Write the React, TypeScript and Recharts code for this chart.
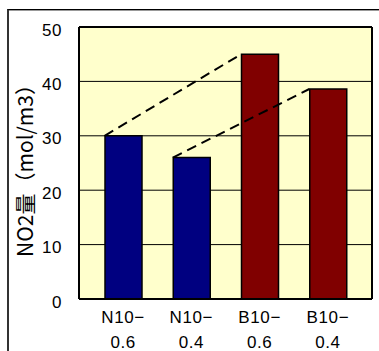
import React from 'react';
import { BarChart, Bar, XAxis, YAxis, CartesianGrid, Cell, ReferenceLine } from 'recharts';

const categories = ['N10-0.6', 'N10-0.4', 'B10-0.6', 'B10-0.4'];
const no2Values = [30, 26, 45, 38.6];
const barColors = ['#000080', '#000080', '#800000', '#800000'];
const yTicks = [0, 10, 20, 30, 40, 50];
// dashed links between bars: [from index, to index]
const links = [
  [0, 2],
  [1, 3]
];

const data = categories.map((name, i) => ({ name, value: no2Values[i] }));

const BAR_SIZE = 37;
const LATIN = '"Liberation Sans", Arial, sans-serif';
const JP = '"Noto Sans CJK JP", sans-serif';

const XTick = ({ x, y, payload }: any) => {
  const [head, tail] = String(payload.value).split('-');
  return (
    <text x={x} y={y} textAnchor="middle" fontSize={17} letterSpacing={0.6} fill="#000" fontFamily={LATIN}>
      <tspan x={x} dy={24}>{head}−</tspan>
      <tspan x={x} dy={25}>{tail}</tspan>
    </text>
  );
};

const YTick = ({ x, y, payload }: any) => (
  <text x={x} y={y} dy={8.5} textAnchor="end" fontSize={17} letterSpacing={0.5} fill="#000" fontFamily={LATIN}>
    {payload.value}
  </text>
);

const YLabel = ({ viewBox }: any) => {
  const cx = viewBox.x - 5;
  const cy = viewBox.y + viewBox.height / 2 + 2.5;
  return (
    <text
      x={cx}
      y={cy}
      transform={`rotate(-90 ${cx} ${cy})`}
      textAnchor="middle"
      dominantBaseline="central"
      fontSize={21}
      fill="#000"
      fontFamily={JP}
    >
      NO2量（mol/m3）
    </text>
  );
};

// reference line is placed at band centres; shift to the bars' top-left corners
const DashLink = (props: any) => {
  const { x1, y1, x2, y2 } = props;
  const h = BAR_SIZE / 2;
  return (
    <line
      x1={x1 - h}
      y1={y1}
      x2={x2 - h}
      y2={y2}
      stroke="#000"
      strokeWidth={2}
      strokeDasharray="10 6"
    />
  );
};

export default function App() {
  return (
    <div style={{ position: 'absolute', left: 0, top: 0, width: 379, height: 351, background: '#fff', overflow: 'hidden' }}>
      <div
        style={{
          position: 'absolute',
          left: 7,
          top: 9,
          width: 400,
          height: 400,
          borderLeft: '2px solid #333',
          borderTop: '1px solid #000',
          boxShadow: 'inset 0 1px 0 #999'
        }}
      />
      <div style={{ position: 'absolute', left: 0, top: 0 }}>
        <BarChart
          width={379}
          height={351}
          data={data}
          margin={{ top: 27, right: 7, bottom: 0, left: 29 }}
        >
          <CartesianGrid vertical={false} stroke="#000" strokeWidth={1} fill="#FFFFCC" fillOpacity={1} />
          <CartesianGrid
            fill="none"
            stroke="#000"
            strokeWidth={2}
            horizontalCoordinatesGenerator={({ offset }: any) => [offset.top, offset.top + offset.height]}
            verticalCoordinatesGenerator={({ offset }: any) => [offset.left, offset.left + offset.width]}
          />
          <XAxis
            dataKey="name"
            height={52}
            padding={{ left: 10, right: 10 }}
            axisLine={{ stroke: '#000', strokeWidth: 2 }}
            tickLine={false}
            tickSize={0}
            tickMargin={0}
            tick={<XTick />}
            interval={0}
          />
          <YAxis
            width={50}
            domain={[0, 50]}
            ticks={yTicks}
            axisLine={{ stroke: '#000', strokeWidth: 2 }}
            tickLine={false}
            tickSize={0}
            tickMargin={17}
            tick={<YTick />}
            label={{ content: <YLabel /> }}
          />
          <Bar dataKey="value" barSize={BAR_SIZE} stroke="#000" strokeWidth={1.5} isAnimationActive={false}>
            {data.map((d, i) => (
              <Cell key={d.name} fill={barColors[i]} />
            ))}
          </Bar>
          {links.map(([a, b]) => (
            <ReferenceLine
              key={`${a}-${b}`}
              segment={[
                { x: categories[a], y: no2Values[a] },
                { x: categories[b], y: no2Values[b] }
              ]}
              shape={<DashLink />}
            />
          ))}
        </BarChart>
      </div>
    </div>
  );
}
